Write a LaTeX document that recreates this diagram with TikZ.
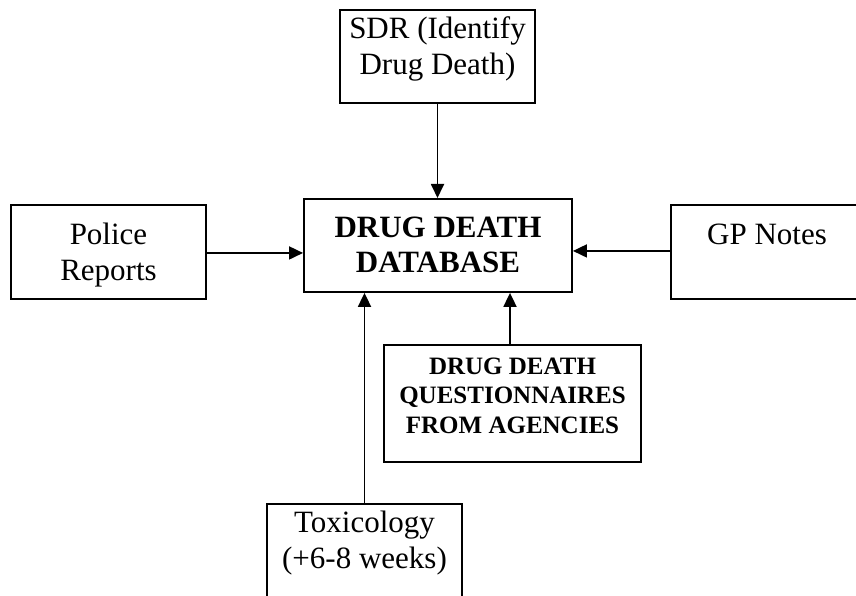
\documentclass[tikz,border=0pt]{standalone}
\usepackage{fontspec}
\setmainfont{Liberation Serif}
\usetikzlibrary{arrows.meta}
\begin{document}
\begin{tikzpicture}[x=1pt,y=-1pt,
    box/.style={draw, line width=1.9pt, align=center, inner sep=0pt, anchor=north},
    plain/.style={font=\fontsize{31}{36}\selectfont},
    heavy/.style={font=\fontsize{31}{35}\selectfont\bfseries},
    heavysmall/.style={font=\fontsize{25}{29.7}\selectfont\bfseries},
    feed/.style={line width=1.8pt, -{Triangle[width=13pt,length=14pt]}}]
  \useasboundingbox (0,0) rectangle (856,596);
  \clip (0,0) rectangle (856,596);
  % sources and the database
  \node [box, plain, minimum width=195pt, text height=65pt, text depth=27.7pt] (sdr) at (437.5,9) {SDR (Identify\\Drug Death)};
  \node [box, heavy, minimum width=268pt, text height=73.7pt, text depth=19.3pt] (db) at (438,198) {DRUG DEATH\\DATABASE};
  \node [box, plain, minimum width=195pt, text height=76pt, text depth=18pt] (police) at (108.5,204) {Police\\Reports};
  \node [box, plain, minimum width=192pt, text height=40pt, text depth=54pt] (gp) at (767,204) {GP Notes};
  \node [box, heavysmall, minimum width=257pt, text height=88.7pt, text depth=28.3pt] (quest) at (512.5,344) {DRUG DEATH\\QUESTIONNAIRES\\FROM AGENCIES};
  \node [box, plain, minimum width=194.4pt, text height=64.7pt, text depth=60pt] (tox) at (364.5,503.3) {Toxicology\\(+6-8 weeks)};
  % feeds into the database
  \draw [feed] (sdr.south) -- (sdr.south |- db.north);
  \draw [feed] ([yshift=-1pt]police.east) -- ([yshift=-1pt]police.east -| db.west);
  \draw [feed] ([yshift=1pt]gp.west) -- ([yshift=1pt]gp.west -| db.east);
  \draw [feed] (tox.north) -- (tox.north |- db.south);
  \draw [feed] ([xshift=-2.5pt]quest.north) -- ([xshift=-2.5pt]quest.north |- db.south);
\end{tikzpicture}
\end{document}
